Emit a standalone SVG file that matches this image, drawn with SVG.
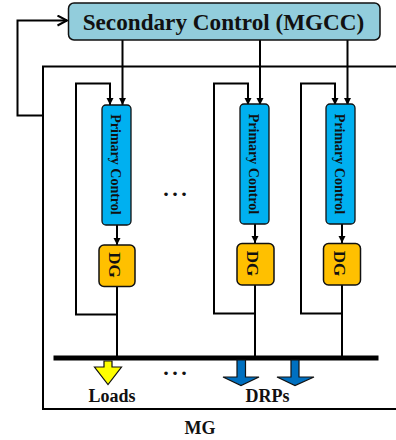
<svg xmlns="http://www.w3.org/2000/svg" width="396" height="440" viewBox="0 0 396 440">
<defs>
<marker id="tri" markerUnits="userSpaceOnUse" markerWidth="8" markerHeight="8" refX="7" refY="4" orient="auto"><path d="M0,0.500 L7,4 L0,7.500 Z" fill="#000"/></marker>
<marker id="open" markerUnits="userSpaceOnUse" markerWidth="14" markerHeight="14" refX="11" refY="6" orient="auto"><path d="M1.500,1 L11,6 L1.500,11" fill="none" stroke="#000" stroke-width="2"/></marker>
</defs>
<style>
text{font-family:"Liberation Serif","Times New Roman",serif;font-weight:bold;fill:#111;text-anchor:middle}
.l{fill:none;stroke:#000;stroke-width:2}
.p{fill:#00B0F0;stroke:#111;stroke-width:1.3}
.d{fill:#FFC000;stroke:#111;stroke-width:1.5}
.pt{font-size:14px}
.dt{font-size:17px}
.lb{font-size:18px}
.dots{font-size:22px;letter-spacing:3.5px}
.dr{fill:#0070C0;stroke:#111;stroke-width:1.2}
</style>
<rect id="mg" x="43" y="66.5" width="360" height="342.5" fill="none" stroke="#000" stroke-width="2"/>
<g id="connectors">
<path class="l" d="M43,115.500H17.500V20.500H67" marker-end="url(#open)"/>
<path class="l" d="M122.500,40V105" marker-end="url(#tri)"/>
<path class="l" d="M260,40V105" marker-end="url(#tri)"/>
<path class="l" d="M347.500,40V105" marker-end="url(#tri)"/>
<path class="l" d="M117,314.500H76V83.500H110V105" marker-end="url(#tri)"/>
<path class="l" d="M255,313.500H214V83.500H248V105" marker-end="url(#tri)"/>
<path class="l" d="M342,313.500H301V83.500H335V105" marker-end="url(#tri)"/>
<path class="l" d="M117,225V245" marker-end="url(#tri)"/>
<path class="l" d="M255,224V243" marker-end="url(#tri)"/>
<path class="l" d="M342,224V243" marker-end="url(#tri)"/>
<path class="l" d="M117,286V358"/>
<path class="l" d="M255,285V358"/>
<path class="l" d="M342,285V358"/>
</g>
<rect id="bus" x="53.500" y="355.500" width="325" height="5" fill="#000"/>
<g id="mgcc"><rect x="68.500" y="3" width="311.500" height="37" rx="5.500" fill="#92CDDC" stroke="#111" stroke-width="1.500"/><text x="223.500" y="29.500" font-size="23.200">Secondary Control (MGCC)</text></g>
<g id="pc1"><rect class="p" x="102" y="105" width="29" height="120" rx="4"/><text class="pt" transform="translate(110.500,164.500) rotate(90)">Primary Control</text></g>
<g id="pc2"><rect class="p" x="240" y="104" width="29" height="120" rx="4"/><text class="pt" transform="translate(248.500,164) rotate(90)">Primary Control</text></g>
<g id="pc3"><rect class="p" x="326" y="104" width="29" height="120" rx="4"/><text class="pt" transform="translate(334.500,164) rotate(90)">Primary Control</text></g>
<g id="dg1"><rect class="d" x="99" y="245" width="36" height="41.500" rx="5"/><text class="dt" transform="translate(109,265) rotate(90)">DG</text></g>
<g id="dg2"><rect class="d" x="237" y="243.500" width="37" height="41.500" rx="5"/><text class="dt" transform="translate(247,263.500) rotate(90)">DG</text></g>
<g id="dg3"><rect class="d" x="323.500" y="243.500" width="37" height="41.500" rx="5"/><text class="dt" transform="translate(333.500,263.500) rotate(90)">DG</text></g>
<g id="loads"><path d="M104,361V367H94.500L108,384.500L121.500,367H112V361Z" fill="#FFFF00" stroke="#111" stroke-width="1.200"/><text class="lb" x="112" y="402">Loads</text></g>
<g id="drps"><path class="dr" d="M237,360V377H223L241,385.500L259,377H245.500V360Z"/><path class="dr" d="M291,360V377H277L295,385.500L314,377H299V360Z"/><text class="lb" x="267.500" y="402">DRPs</text></g>
<text class="dots" x="176.750" y="195.500">...</text>
<text class="dots" x="176.750" y="375">...</text>
<text class="lb" x="200" y="433.500">MG</text>
</svg>
